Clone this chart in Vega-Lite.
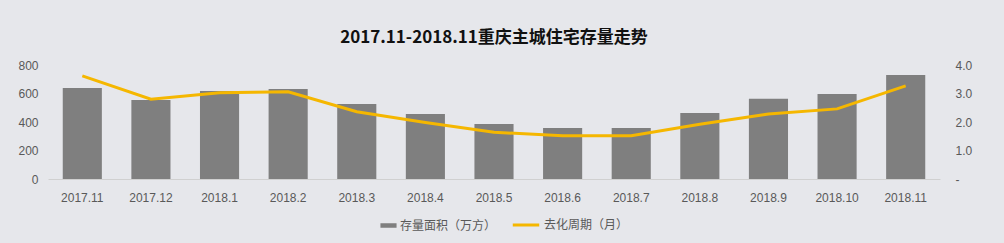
{
  "$schema": "https://vega.github.io/schema/vega-lite/v6.json",
  "width": 892,
  "height": 114,
  "autosize": {"type": "none"},
  "padding": {"left": 48, "top": 65, "right": 64, "bottom": 64},
  "background": "#e6e7eb",
  "title": {
    "text": "2017.11-2018.11重庆主城住宅存量走势",
    "font": "Noto Sans CJK SC",
    "fontSize": 17,
    "fontWeight": "bold",
    "color": "#111111",
    "anchor": "middle",
    "offset": 12
  },
  "config": {
    "view": {"stroke": null},
    "axis": {"labelFont": "Liberation Sans", "labelFontSize": 12, "labelColor": "#595959", "grid": false, "ticks": false, "title": null},
    "legend": {"labelFont": "Noto Sans CJK SC", "labelFontSize": 12, "labelColor": "#595959", "labelOffset": 3}
  },
  "data": {
    "values": [
      {"month": "2017.11", "area": 639, "cycle": 3.62},
      {"month": "2017.12", "area": 554, "cycle": 2.80},
      {"month": "2018.1", "area": 618, "cycle": 3.03},
      {"month": "2018.2", "area": 632, "cycle": 3.06},
      {"month": "2018.3", "area": 526, "cycle": 2.36},
      {"month": "2018.4", "area": 456, "cycle": 1.98},
      {"month": "2018.5", "area": 386, "cycle": 1.64},
      {"month": "2018.6", "area": 358, "cycle": 1.52},
      {"month": "2018.7", "area": 358, "cycle": 1.52},
      {"month": "2018.8", "area": 463, "cycle": 1.92},
      {"month": "2018.9", "area": 564, "cycle": 2.28},
      {"month": "2018.10", "area": 597, "cycle": 2.46},
      {"month": "2018.11", "area": 730, "cycle": 3.27}
    ]
  },
  "encoding": {
    "x": {
      "field": "month",
      "type": "nominal",
      "sort": null,
      "scale": {"paddingInner": 0.43, "paddingOuter": 0.215},
      "axis": {"labelAngle": 0, "domainColor": "#d0d0d0", "labelPadding": 13}
    }
  },
  "layer": [
    {
      "mark": {"type": "bar", "color": "#7f7f7f"},
      "encoding": {
        "y": {
          "field": "area",
          "type": "quantitative",
          "scale": {"domain": [0, 800]},
          "axis": {"values": [0, 200, 400, 600, 800], "domain": false, "labelPadding": 10}
        },
        "color": {
          "datum": "存量面积（万方）",
          "type": "nominal",
          "scale": {"range": ["#7f7f7f"]},
          "legend": {"orient": "none", "legendX": 332, "legendY": 152, "title": null, "symbolType": "M-1,-0.28H1V0.28H-1Z", "symbolSize": 260, "symbolStrokeWidth": 0}
        }
      }
    },
    {
      "mark": {"type": "line", "color": "#f5b700", "strokeWidth": 3},
      "encoding": {
        "y": {
          "field": "cycle",
          "type": "quantitative",
          "scale": {"domain": [0, 4]},
          "axis": {"orient": "right", "values": [0, 1, 2, 3, 4], "domain": false, "labelPadding": 15, "labelExpr": "datum.value == 0 ? '-' : format(datum.value, '.1f')"}
        },
        "stroke": {
          "datum": "去化周期（月）",
          "type": "nominal",
          "scale": {"range": ["#f5b700"]},
          "legend": {"orient": "none", "legendX": 463, "legendY": 145, "title": null, "symbolType": "stroke", "symbolSize": 700, "symbolStrokeWidth": 3}
        }
      }
    }
  ],
  "resolve": {"scale": {"y": "independent"}}
}
